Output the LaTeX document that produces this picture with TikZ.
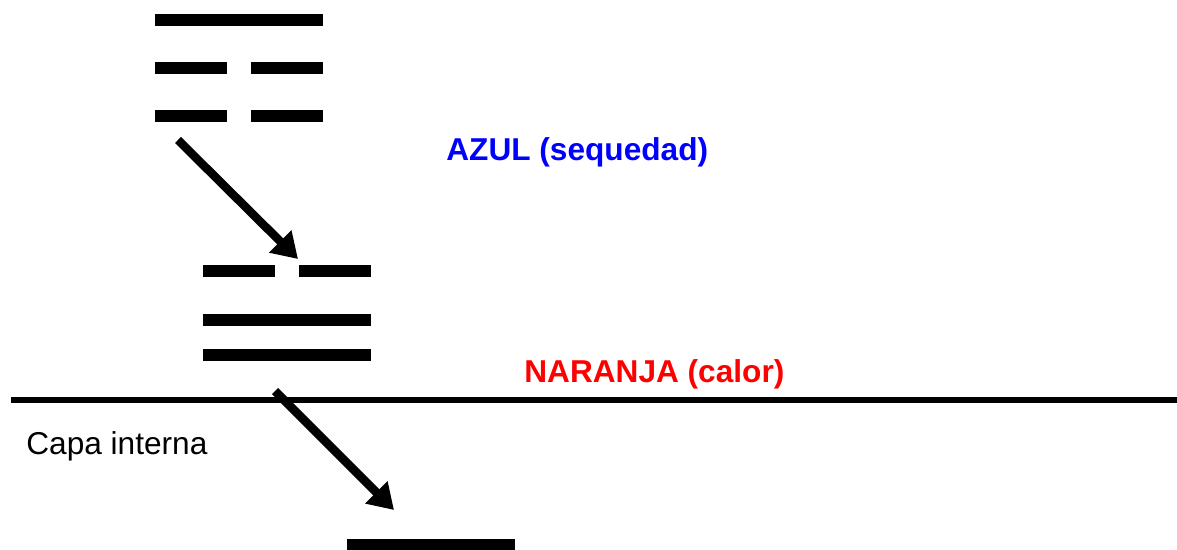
\documentclass[tikz,border=0pt]{standalone}
\usepackage{fontspec}
\setmainfont{Liberation Sans}
\usepackage{tikz}
\usetikzlibrary{arrows.meta,positioning}
\tikzstyle{bar}   = [line width=0.24cm]
\tikzstyle{arrow} = [line width=0.17cm,-{Triangle[length=0.5cm,width=0.6cm]}]
\tikzstyle{label} = [inner sep=0pt, anchor=base west, font=\fontsize{18}{21}\selectfont]

\begin{document}
\begin{tikzpicture}[x=0.02cm,y=-0.02cm]
        \useasboundingbox (0,0) rectangle (1177,550);

        \draw[bar] (155,20) -- (323,20);
        \draw[bar] (155,68) -- (227,68);
        \draw[bar] (251,68) -- (323,68);
        \draw[bar] (155,116) -- (227,116);
        \draw[bar] (251,116) -- (323,116);

        \draw[bar] (203,271) -- (275,271);
        \draw[bar] (299,271) -- (371,271);
        \draw[bar] (203,320) -- (371,320);
        \draw[bar] (203,355) -- (371,355);

        \draw[bar] (347,545) -- (515,545);

        \draw[line width=0.11cm] (11,400) -- (1177,400);

        \node[label, text=blue, font=\fontsize{18}{21}\selectfont\bfseries] (azul) at (446,161) {AZUL (sequedad)};
        \node[label, text=red, font=\fontsize{18}{21}\selectfont\bfseries] (naranja) at (524,383) {NARANJA (calor)};
        \node[label] (capa) at (26,455) {Capa interna};

        \coordinate (t1) at (178,140);
        \coordinate (h1) at (298,259);
        \coordinate (t2) at (275,391);
        \coordinate (h2) at (394,510);

        \draw[arrow] (t1) -- (h1);
        \draw[arrow] (t2) -- (h2);
    \end{tikzpicture}
\end{document}
